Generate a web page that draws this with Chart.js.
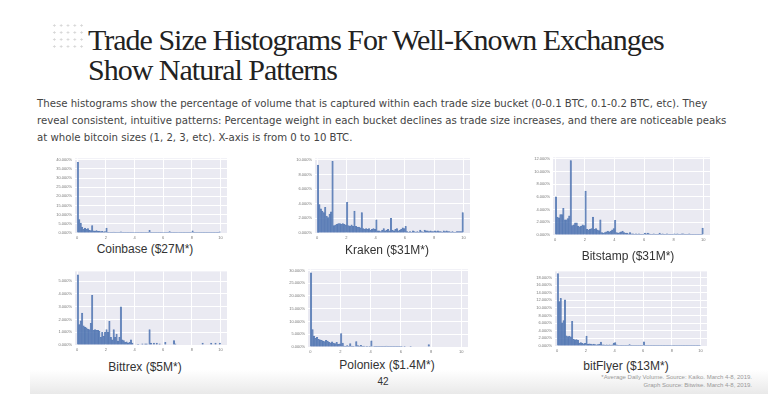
<!DOCTYPE html>
<html lang="en">
<head>
<meta charset="UTF-8" />
<title>Trade Size Histograms For Well-Known Exchanges</title>
<script src="https://cdn.jsdelivr.net/npm/chart.js"></script>
<style>
  body {
    margin: 0;
    width: 768px;
    height: 394px;
    overflow: hidden;
    background: #fff;
    position: relative;
    font-family: 'Liberation Sans', Arial, sans-serif;
  }
  .dots {
    position: absolute;
    left: 51px;
    top: 21.5px;
    width: 34px;
    height: 28px;
    background-image: radial-gradient(circle, #d6d6d6 0.9px, transparent 1.3px);
    background-size: 6.8px 7px;
  }
  h1 {
    position: absolute;
    left: 88px;
    top: 25px;
    margin: 0;
    font: 400 30px/30px 'Liberation Serif', serif;
    letter-spacing: -1px;
    color: #222;
  }
  .intro {
    position: absolute;
    left: 37px;
    top: 95px;
    margin: 0;
    font-family: 'Liberation Sans Narrow', 'DejaVu Sans Condensed', 'Liberation Sans', sans-serif;
    font-size: 11.3px;
    line-height: 17px;
    color: #444;
    white-space: nowrap;
  }
  canvas { position: absolute; }
  .caption {
    position: absolute;
    width: 200px;
    margin-left: -100px;
    text-align: center;
    font-size: 12px;
    line-height: 14px;
    color: #333;
  }
  .page-no {
    position: absolute;
    left: 383px;
    top: 376px;
    width: 30px;
    margin-left: -15px;
    text-align: center;
    font-size: 10px;
    line-height: 12px;
    color: #333;
  }
  .footnote {
    position: absolute;
    right: 16px;
    top: 374px;
    text-align: right;
    font-size: 6px;
    line-height: 7.5px;
    color: #999;
  }
  .bottom-band {
    position: absolute;
    left: 30px;
    right: 0;
    top: 370px;
    height: 24px;
    background: linear-gradient(#fff, #e9e9e9);
  }
</style>
</head>
<body>
  <div class="bottom-band"></div>
  <div class="dots"></div>
  <h1>Trade Size Histograms For Well-Known Exchanges<br>Show Natural Patterns</h1>
  <p class="intro">These histograms show the percentage of volume that is captured within each trade size bucket (0-0.1 BTC, 0.1-0.2 BTC, etc). They<br>reveal consistent, intuitive patterns: Percentage weight in each bucket declines as trade size increases, and there are noticeable peaks<br>at whole bitcoin sizes (1, 2, 3, etc). X-axis is from 0 to 10 BTC.</p>

  <canvas id="coinbase"></canvas>
  <canvas id="kraken"></canvas>
  <canvas id="bitstamp"></canvas>
  <canvas id="bittrex"></canvas>
  <canvas id="poloniex"></canvas>
  <canvas id="bitflyer"></canvas>

  <div class="caption" style="left:145px; top:242px;">Coinbase ($27M*)</div>
  <div class="caption" style="left:387px; top:243px;">Kraken ($31M*)</div>
  <div class="caption" style="left:628px; top:249px;">Bitstamp ($31M*)</div>
  <div class="caption" style="left:145px; top:360px;">Bittrex ($5M*)</div>
  <div class="caption" style="left:387px; top:358px;">Poloniex ($1.4M*)</div>
  <div class="caption" style="left:626px; top:359px;">bitFlyer ($13M*)</div>

  <div class="page-no">42</div>
  <div class="footnote">*Average Daily Volume. Source: Kaiko. March 4-8, 2019.<br>Graph Source: Bitwise. March 4-8, 2019.</div>

<script>
  // trade size buckets: 0-0.1 BTC, 0.1-0.2 BTC ... 9.9-10 BTC
  const binWidth = 0.1;
  const binStarts = Array.from({ length: 100 }, (_, i) => i / 10);
  const xTicks = [0, 2, 4, 6, 8, 10];

  // % of volume per bucket
  const coinbase = [
    38.6, 7.3, 5.4, 3.2, 2.2, 2.7, 2.0, 2.4, 1.5, 1.3,
    4.1, 1.2, 1.0, 1.3, 0.9, 1.1, 0.8, 0.9, 0.7, 0.8,
    2.7, 0.4, 0.3, 0.4, 0.2, 0.5, 0.2, 0.2, 0.3, 0.2,
    0.6, 0.2, 0.1, 0.2, 0.1, 0.2, 0.1, 0.1, 0.1, 0.1,
    0.4, 0.1, 0.1, 0.1, 0.1, 0.2, 0.1, 0.1, 0.1, 0.1,
    1.4, 0.1, 0.1, 0.1, 0.1, 0.1, 0.1, 0.1, 0.1, 0.1,
    0.4, 0.1, 0.1, 0.1, 0.8, 0.1, 0.1, 0.1, 0.1, 0.1,
    0.3, 0.1, 0.1, 0.1, 0.1, 0.1, 0.1, 0.1, 0.1, 0.1,
    1.2, 0.1, 0.1, 0.1, 0.1, 0.1, 0.1, 0.1, 0.1, 0.1,
    0.2, 0.1, 0.1, 0.1, 0.1, 0.1, 0.1, 0.1, 0.1, 0.7
  ];
  const kraken = [
    9.3, 3.9, 3.3, 3.0, 2.8, 3.5, 2.3, 2.1, 2.6, 2.9,
    9.8, 1.0, 1.1, 1.2, 1.3, 1.3, 1.2, 1.3, 1.2, 1.1,
    4.2, 1.0, 0.9, 1.1, 0.9, 3.0, 0.9, 0.8, 0.8, 0.7,
    2.8, 0.6, 0.5, 0.6, 0.5, 0.6, 0.4, 0.5, 0.6, 0.5,
    1.8, 0.3, 0.3, 0.2, 0.4, 0.6, 0.3, 0.4, 0.5, 0.3,
    2.0, 0.4, 0.3, 0.5, 0.6, 0.3, 0.4, 0.5, 0.7, 0.6,
    0.9, 0.2, 0.1, 0.2, 0.1, 0.3, 0.2, 0.1, 0.2, 0.1,
    0.4, 0.2, 0.1, 0.4, 0.3, 0.3, 0.2, 0.3, 0.2, 0.2,
    0.3, 0.2, 0.3, 0.2, 0.2, 0.1, 0.3, 0.2, 0.3, 0.2,
    0.2, 0.1, 0.2, 0.1, 0.1, 0.2, 0.2, 0.2, 0.2, 2.8
  ];
  const bitstamp = [
    6.0, 2.8, 2.7, 3.2, 3.2, 4.2, 2.4, 2.4, 2.6, 3.0,
    11.7, 1.5, 1.6, 1.9, 1.9, 1.4, 1.3, 1.4, 1.6, 1.5,
    6.9, 0.9, 0.8, 0.9, 1.0, 2.8, 0.9, 1.0, 0.8, 0.7,
    2.4, 0.4, 0.3, 0.4, 0.5, 0.6, 0.5, 0.6, 0.8, 1.0,
    2.3, 0.4, 0.3, 0.4, 0.5, 0.6, 0.4, 0.3, 0.3, 0.2,
    0.4, 0.2, 0.2, 0.1, 0.2, 0.1, 0.2, 0.1, 0.1, 0.1,
    0.3, 0.2, 0.3, 0.2, 0.1, 0.1, 0.2, 0.1, 0.1, 0.1,
    0.3, 0.1, 0.2, 0.1, 0.1, 0.2, 0.1, 0.1, 0.1, 0.1,
    0.2, 0.1, 0.2, 0.1, 0.1, 0.2, 0.2, 0.1, 0.1, 0.1,
    0.2, 0.1, 0.1, 0.1, 0.1, 0.1, 0.1, 0.1, 0.1, 1.1
  ];
  const bittrex = [
    5.5, 1.6, 1.9, 2.5, 1.5, 1.4, 1.35, 1.25, 1.2, 1.7,
    3.9, 1.15, 1.2, 1.15, 1.15, 1.1, 0.6, 1.0, 0.7, 1.0,
    1.2, 1.0, 1.85, 0.6, 0.4, 1.2, 0.6, 0.85, 0.3, 0.6,
    3.0, 0.4, 0.35, 0.2, 0.25, 0.15, 0.2, 0.4, 0.15, 0,
    0, 0, 0.05, 0, 0, 0.1, 0, 0.1, 0.1, 0,
    1.2, 0.15, 0, 0.15, 0, 0.15, 0, 0.1, 0, 0,
    0, 0.2, 0, 0, 0, 0, 0, 0.35, 0.1, 0,
    0, 0, 0, 0, 0, 0, 0, 0, 0, 0,
    0, 0, 0, 0, 0, 0, 0, 0.15, 0, 0,
    0, 0, 0, 0.15, 0, 0, 0.15, 0, 0, 0.15
  ];
  const poloniex = [
    29.1, 6.8, 4.3, 3.4, 3.8, 3.0, 2.8, 2.6, 2.3, 2.1,
    2.6, 2.3, 1.8, 1.6, 2.0, 1.5, 1.3, 1.8, 1.0, 1.2,
    5.3, 1.5, 0.4, 0.3, 0.6, 0.3, 1.3, 0.4, 0.3, 0.2,
    2.1, 0.6, 0.4, 0.7, 0.3, 0.4, 0.2, 0.3, 0.2, 0.3,
    2.4, 0.2, 0.1, 0.1, 0.1, 0.1, 0.3, 0.1, 0.1, 0.1,
    0.4, 0.1, 0.3, 0.1, 0.1, 0.1, 0.1, 0.1, 0.1, 0.1,
    0.3, 0, 0.1, 0, 0, 0, 0.3, 0, 0, 0,
    0, 0, 0, 0, 0, 0, 0, 0, 0.9, 0,
    0, 0, 0, 0, 0, 0, 0, 0, 0, 0,
    0, 0, 0, 0, 0, 0, 0, 0, 0, 0
  ];
  const bitflyer = [
    19.0, 11.7, 12.5, 6.1, 6.7, 12.1, 2.7, 2.5, 2.6, 2.4,
    6.5, 1.8, 1.6, 1.7, 1.5, 0.8, 0.9, 0.7, 0.6, 0.7,
    2.6, 0.5, 0.6, 0.5, 0.4, 0.5, 0.4, 0.3, 0.4, 0.5,
    1.0, 0.3, 0.3, 0.2, 0.3, 0.2, 0.3, 0.2, 0.3, 0.8,
    0.9, 0.3, 0.2, 0.2, 0.2, 0.1, 0.2, 0.2, 0.1, 0.2,
    0.4, 0.1, 0.1, 0.1, 0.1, 0.1, 0.1, 0.1, 0.1, 0.1,
    1.1, 0.05, 0.05, 0.05, 0.05, 0.05, 0.05, 0.05, 0.05, 0.05,
    0.05, 0.05, 0.05, 0.1, 0.05, 0.05, 0.05, 0.05, 0.05, 0.05,
    0.05, 0.05, 0.05, 0.05, 0.05, 0.1, 0.05, 0.05, 0.05, 0.05,
    0.05, 0.05, 0.05, 0.05, 0.05, 0.05, 0.05, 0.05, 0.05, 0.05
  ];

  // y tick labels (%) for each panel
  const coinbaseTicks = [0, 5, 10, 15, 20, 25, 30, 35, 40];
  const krakenTicks = [0, 2, 4, 6, 8, 10];
  const bitstampTicks = [0, 2, 4, 6, 8, 10, 12];
  const bittrexTicks = [0, 1, 2, 3, 4, 5];
  const poloniexTicks = [0, 5, 10, 15, 20, 25, 30];
  const bitflyerTicks = [0, 2, 4, 6, 8, 10, 12, 14, 16, 18];

  const panelBg = {
    id: 'panelBg',
    beforeDraw(chart) {
      const { ctx, chartArea: a } = chart;
      ctx.save();
      ctx.fillStyle = '#eaeaf2';
      ctx.fillRect(a.left, a.top, a.right - a.left, a.bottom - a.top);
      ctx.restore();
    }
  };

  const tickFont = { size: 4, family: 'Liberation Sans' };

  function drawHistogram(id, values, yTicks, yMax, box) {
    const canvas = document.getElementById(id);
    const padL = 20, padT = 3, padR = 3, padB = 9;
    canvas.width = box.w + padL + padR;
    canvas.height = box.h + padT + padB;
    canvas.style.left = (box.x - padL) + 'px';
    canvas.style.top = (box.y - padT) + 'px';

    return new Chart(canvas, {
      type: 'bar',
      data: {
        datasets: [{
          data: values.map((v, i) => ({ x: binStarts[i] + binWidth / 2, y: v })),
          backgroundColor: 'rgba(76, 114, 176, 0.55)',
          borderColor: 'rgba(76, 114, 176, 0.8)',
          borderWidth: 0.3,
          barPercentage: 1,
          categoryPercentage: 1
        }]
      },
      options: {
        responsive: false,
        animation: false,
        layout: { padding: { top: padT, right: padR, left: 0, bottom: 0 } },
        plugins: { legend: { display: false }, tooltip: { enabled: false } },
        scales: {
          x: {
            type: 'linear',
            offset: false,
            min: -0.15,
            max: 10.45,
            afterBuildTicks: s => { s.ticks = xTicks.map(v => ({ value: v })); },
            afterFit: s => { s.height = padB; },
            grid: { color: '#ffffff', lineWidth: 1, drawTicks: false, offset: false },
            border: { display: false },
            ticks: { font: tickFont, color: '#777', padding: 2, maxRotation: 0 }
          },
          y: {
            min: 0,
            max: yMax,
            afterBuildTicks: s => { s.ticks = yTicks.map(v => ({ value: v })); },
            afterFit: s => { s.width = padL; },
            grid: { color: '#ffffff', lineWidth: 1, drawTicks: false },
            border: { display: false },
            ticks: { font: tickFont, color: '#777', padding: 3, callback: v => v.toFixed(3) + '%' }
          }
        }
      },
      plugins: [panelBg]
    });
  }

  drawHistogram('coinbase', coinbase, coinbaseTicks, 40.7, { x: 75, y: 156, w: 152, h: 77 });
  drawHistogram('kraken', kraken, krakenTicks, 10.2, { x: 315, y: 156, w: 155, h: 77 });
  drawHistogram('bitstamp', bitstamp, bitstampTicks, 12.2, { x: 553, y: 155, w: 157, h: 80 });
  drawHistogram('bittrex', bittrex, bittrexTicks, 5.77, { x: 75, y: 269, w: 152, h: 76 });
  drawHistogram('poloniex', poloniex, poloniexTicks, 30.4, { x: 308, y: 267, w: 160, h: 80 });
  drawHistogram('bitflyer', bitflyer, bitflyerTicks, 19.6, { x: 555, y: 269, w: 152, h: 77 });
</script>
</body>
</html>
